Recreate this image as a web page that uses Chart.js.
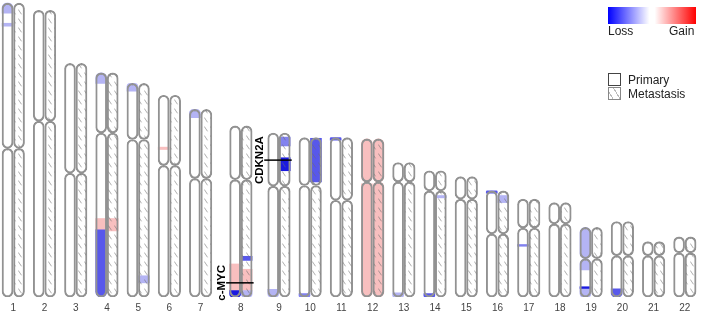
<!DOCTYPE html>
<html>
<head>
<meta charset="utf-8">
<script src="https://cdn.jsdelivr.net/npm/chart.js@4/dist/chart.umd.min.js"></script>
<style>
  html, body { margin: 0; padding: 0; background: #fff; }
  #wrap { position: relative; width: 705px; height: 312px; font-family: "Liberation Sans", Arial, sans-serif; color: #222; }
  #chart { position: absolute; left: 0; top: 0; }
  .scalebar { position: absolute; left: 608px; top: 7px; width: 88px; height: 17px;
    background: linear-gradient(to right, #0000ff 0%, #ffffff 47%, #ffffff 53%, #ff0000 100%); }
  .txt { position: absolute; font-size: 12px; line-height: 14px; white-space: nowrap; }
  .box { position: absolute; left: 608px; width: 11px; height: 11px; border: 1px solid #444; background: #fff; }
  .box.meta { border-color: #888;
    background: repeating-linear-gradient(60deg, #fff 0 3px, #bbb 3px 4px, #fff 4px 6px); }
</style>
</head>
<body>
<div id="wrap">
  <canvas id="chart" width="705" height="312"></canvas>
  <div class="scalebar"></div>
  <span class="txt" style="left:608px;top:24px">Loss</span>
  <span class="txt" style="left:669px;top:24px">Gain</span>
  <div class="box" style="top:73px"></div>
  <span class="txt" style="left:628px;top:73px">Primary</span>
  <div class="box meta" style="top:87px"></div>
  <span class="txt" style="left:628px;top:87px">Metastasis</span>
</div>
<script>
// chromosome lengths and centromere positions (Mb from pter)
const chromosomes = ['1','2','3','4','5','6','7','8','9','10','11','12','13','14','15','16','17','18','19','20','21','22'];
const chromLength = [249, 243, 198, 190, 181, 171, 159, 145, 139, 135, 135, 134, 114, 107, 102, 90, 83, 80, 59, 64, 47, 51];
const centromere  = [123, 94, 93, 51, 47.5, 59.5, 58.5, 45.5, 45, 40.5, 53, 36.5, 16.5, 17, 19, 36.5, 24.5, 18, 26.5, 29, 12, 13.5];

// copy number calls: [chromosome, start Mb, end Mb, state]
const primaryCalls = [
  [1, 0, 8.5, 'weakLoss'], [1, 17, 19.5, 'weakLoss'],
  [4, 0, 9, 'weakLoss'], [4, 123.5, 133, 'gain'], [4, 133, 190, 'loss'],
  [5, 0, 6.5, 'weakLoss'],
  [6, 44, 46, 'gain'],
  [7, 0, 7, 'weakLoss'],
  [8, 117, 139.5, 'gain'], [8, 139.5, 145, 'deepLoss'],
  [9, 132.5, 139, 'weakLoss'],
  [10, 132, 135, 'midLoss'],
  [11, 0, 2, 'loss'],
  [12, 0, 36.5, 'gain'], [12, 38, 134, 'gain'],
  [13, 110.5, 114, 'weakLoss'],
  [14, 104, 107, 'loss'],
  [16, 0, 2, 'loss'],
  [17, 38.5, 40, 'midLoss'],
  [19, 0, 36, 'weakLoss'], [19, 50.3, 51.8, 'deepLoss'], [19, 52.5, 59, 'weakLoss'],
  [20, 57, 64, 'loss']
];
const metastasisCalls = [
  [4, 123.5, 134, 'gain'],
  [5, 163, 169, 'weakLoss'],
  [8, 110.5, 114, 'loss'], [8, 121.5, 139.5, 'gain'], [8, 139.5, 145, 'weakLoss'],
  [9, 3.5, 11, 'midLoss'], [9, 21, 32, 'deepLoss'],
  [10, 0.5, 37.5, 'loss'],
  [12, 0, 134, 'gain'],
  [14, 21, 23, 'weakLoss'],
  [16, 4, 10, 'weakLoss']
];

// marked genes
const geneNames = ['c-MYC', 'CDKN2A'];
const geneChr = [8, 9];
const geneMb = [133, 23];

const stateColor = {
  weakLoss: '#b4b4f4',
  midLoss: '#8282ef',
  loss: '#5858eb',
  deepLoss: '#1a1ae0',
  gain: '#f8bfbf'
};

// layout: pixel spacing of chromosome pairs, extra room for the gene labels
const PX_PER_UNIT = 31.22;
const X_MIN = 1 - 13.3 / PX_PER_UNIT;
const X_MAX = X_MIN + 705 / PX_PER_UNIT;
const HALF = 5.75 / PX_PER_UNIT;
const R = 5.5;
function pairX(n) { return n + (n >= 8 ? 0.29 : 0) + (n >= 9 ? 0.22 : 0); }
function armsOf(i) {
  const L = chromLength[i], c = centromere[i];
  return [[0, c], [c, L]];
}

function hatch() {
  const p = document.createElement('canvas');
  p.width = 6; p.height = 9;
  const g = p.getContext('2d');
  g.strokeStyle = 'rgba(110,110,110,0.7)';
  g.lineWidth = 0.8;
  g.beginPath();
  g.moveTo(0.3, 0.5);
  g.lineTo(3.5, 5.3);
  g.stroke();
  return g.createPattern(p, 'repeat');
}

// arms as floating bars (y measured up from the q-ter baseline)
const baseArms = [], primaryArms = [], metaArms = [];
chromosomes.forEach((c, i) => {
  const L = chromLength[i];
  armsOf(i).forEach(([a, b]) => {
    const y = [L - b, L - a];
    primaryArms.push({x: pairX(i + 1) - HALF, y});
    metaArms.push({x: pairX(i + 1) + HALF, y});
  });
});
baseArms.push(...primaryArms, ...metaArms);

// split calls at the centromere and round them where they meet an arm end
const segData = [], segColors = [], segRadius = [];
function addCalls(calls, side) {
  calls.forEach(([chr, s, e, state]) => {
    const i = chr - 1, L = chromLength[i];
    armsOf(i).forEach(([a, b]) => {
      const s2 = Math.max(s, a), e2 = Math.min(e, b);
      if (e2 <= s2) return;
      const top = s2 <= a + 0.01 ? R : 0;
      const bot = e2 >= b - 0.01 ? R : 0;
      segData.push({x: pairX(chr) + side * HALF, y: [L - e2, L - s2]});
      segColors.push(stateColor[state]);
      segRadius.push({topLeft: top, topRight: top, bottomLeft: bot, bottomRight: bot});
    });
  });
}
addCalls(primaryCalls, -1);
addCalls(metastasisCalls, 1);

const geneLines = geneNames.map((g, k) => {
  const i = geneChr[k] - 1, yv = chromLength[i] - geneMb[k], cx = pairX(geneChr[k]);
  return {
    type: 'line', order: -1,
    data: [{x: cx - HALF - 9 / PX_PER_UNIT, y: yv}, {x: cx + HALF + 7 / PX_PER_UNIT, y: yv}],
    borderColor: '#000', borderWidth: 1.5, pointRadius: 0
  };
});

const geneLabels = {
  id: 'geneLabels',
  afterDatasetsDraw(chart) {
    const {ctx, scales: {x, y}} = chart;
    geneNames.forEach((name, k) => {
      const i = geneChr[k] - 1;
      const px = x.getPixelForValue(pairX(geneChr[k]) - HALF) - 5.5 - 7.5;
      const py = y.getPixelForValue(chromLength[i] - geneMb[k]);
      ctx.save();
      ctx.translate(px, py);
      ctx.rotate(-Math.PI / 2);
      ctx.font = 'bold 11.5px "Liberation Sans", Arial, sans-serif';
      ctx.fillStyle = '#000';
      ctx.textAlign = 'center';
      ctx.textBaseline = 'middle';
      ctx.fillText(name, 0, 0);
      ctx.restore();
    });
  }
};

const barCommon = { type: 'bar', grouped: false, borderSkipped: false, maxBarThickness: 11, barThickness: 11 };

new Chart(document.getElementById('chart'), {
  type: 'bar',
  data: {
    datasets: [
      ...geneLines,
      { ...barCommon, order: 0, data: primaryArms, backgroundColor: 'rgba(0,0,0,0)', borderColor: '#929292', borderWidth: 1.3, borderRadius: R },
      { ...barCommon, order: 0, data: metaArms, backgroundColor: hatch(), borderColor: '#929292', borderWidth: 1.3, borderRadius: R },
      { ...barCommon, order: 1, data: segData, backgroundColor: segColors, borderWidth: 0, borderRadius: segRadius },
      { ...barCommon, order: 2, data: baseArms, backgroundColor: '#fff', borderWidth: 0, borderRadius: R }
    ]
  },
  options: {
    responsive: false,
    animation: false,
    layout: { padding: { top: 2, left: 0, right: 0, bottom: 0 } },
    plugins: { legend: { display: false }, tooltip: { enabled: false } },
    scales: {
      x: {
        type: 'linear', min: X_MIN, max: X_MAX, offset: false,
        grid: { display: false, drawTicks: false }, border: { display: false },
        afterBuildTicks: (scale) => { scale.ticks = chromosomes.map((c, i) => ({ value: pairX(i + 1) })); },
        afterFit: (scale) => { scale.height = 15; scale.paddingLeft = 0; scale.paddingRight = 0; },
        ticks: {
          autoSkip: false, maxRotation: 0, padding: 5.5, color: '#444',
          font: { family: '"Liberation Sans", Arial, sans-serif', size: 10 },
          callback: (v, idx) => chromosomes[idx]
        }
      },
      y: { display: false, min: 0, max: 250 }
    }
  },
  plugins: [geneLabels]
});
</script>
</body>
</html>
